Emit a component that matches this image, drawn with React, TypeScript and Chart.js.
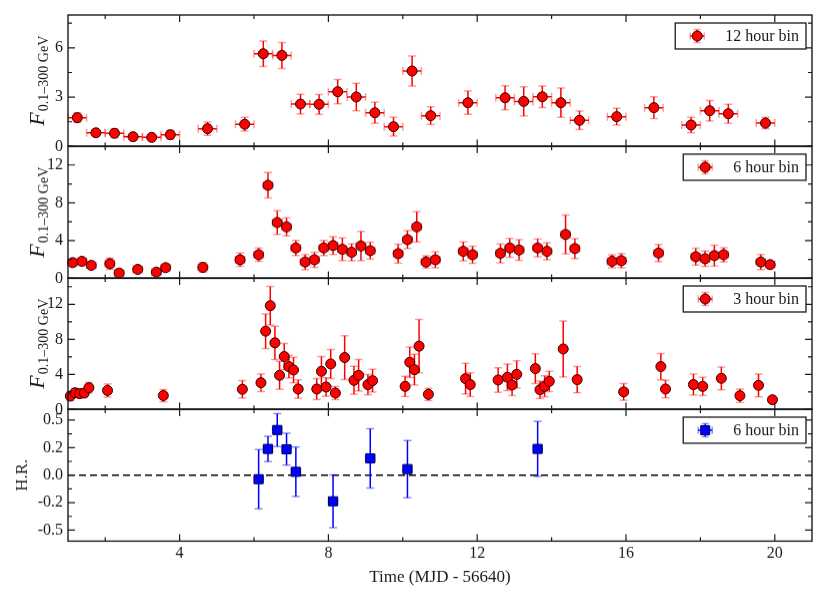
import React, { FC, useEffect, useRef } from 'react'
import { Chart, registerables } from 'chart.js'

Chart.register(...registerables)

// time axis (MJD - 56640)
const X_MIN = 1
const X_MAX = 21
const xMajorTicks = [4, 8, 12, 16, 20]
const xMinorTicks = [2, 6, 10, 14, 18]

// 12 hour bins
const time12h = [1.25, 1.75, 2.25, 2.75, 3.25, 3.75, 4.75, 5.75, 6.25, 6.75, 7.25, 7.75, 8.25, 8.75, 9.25, 9.75, 10.25, 10.75, 11.75, 12.75, 13.25, 13.75, 14.25, 14.75, 15.75, 16.75, 17.75, 18.25, 18.75, 19.75]
const flux12h = [1.75, 0.83, 0.8, 0.59, 0.55, 0.71, 1.08, 1.35, 5.64, 5.54, 2.58, 2.56, 3.33, 3.01, 2.05, 1.2, 4.59, 1.87, 2.66, 2.96, 2.74, 3.02, 2.66, 1.59, 1.81, 2.36, 1.3, 2.17, 1.99, 1.42]
const fluxErr12h = [0.3, 0.18, 0.28, 0.18, 0.15, 0.28, 0.4, 0.42, 0.78, 0.79, 0.6, 0.6, 0.74, 0.84, 0.64, 0.57, 0.91, 0.54, 0.71, 0.73, 0.89, 0.65, 0.89, 0.56, 0.51, 0.66, 0.47, 0.62, 0.58, 0.35]

// 6 hour bins
const time6h = [1.125, 1.375, 1.625, 2.125, 2.375, 2.875, 3.375, 3.625, 4.625, 5.625, 6.125, 6.375, 6.625, 6.875, 7.125, 7.375, 7.625, 7.875, 8.125, 8.375, 8.625, 8.875, 9.125, 9.875, 10.125, 10.375, 10.625, 10.875, 11.625, 11.875, 12.625, 12.875, 13.125, 13.625, 13.875, 14.375, 14.625, 15.625, 15.875, 16.875, 17.875, 18.125, 18.375, 18.625, 19.625, 19.875]
const flux6h = [1.66, 1.8, 1.37, 1.55, 0.56, 0.95, 0.66, 1.13, 1.16, 1.97, 2.5, 9.85, 5.91, 5.45, 3.22, 1.73, 1.97, 3.22, 3.47, 3.07, 2.76, 3.43, 2.93, 2.61, 4.1, 5.45, 1.73, 1.97, 2.86, 2.5, 2.65, 3.22, 3.0, 3.22, 2.86, 4.64, 3.15, 1.8, 1.87, 2.68, 2.29, 2.08, 2.4, 2.5, 1.73, 1.45]
const fluxErr6h = [0.35, 0.35, 0.3, 0.6, 0.25, 0.3, 0.25, 0.35, 0.5, 0.7, 0.7, 1.35, 1.25, 0.95, 0.8, 0.8, 0.8, 0.8, 0.95, 1.2, 0.9, 1.55, 0.9, 1.0, 0.95, 1.6, 0.65, 0.85, 1.0, 0.9, 1.0, 1.0, 1.1, 0.95, 0.9, 2.05, 1.05, 0.7, 0.75, 0.9, 0.9, 0.8, 1.1, 0.75, 0.8, 0.3]

// 3 hour bins
const time3h = [1.0625, 1.1875, 1.3125, 1.4375, 1.5625, 2.0625, 3.5625, 5.6875, 6.1875, 6.3125, 6.4375, 6.5625, 6.6875, 6.8125, 6.9375, 7.0625, 7.1875, 7.6875, 7.8125, 7.9375, 8.0625, 8.1875, 8.4375, 8.6875, 8.8125, 9.0625, 9.1875, 10.0625, 10.1875, 10.3125, 10.4375, 10.6875, 11.6875, 11.8125, 12.5625, 12.8125, 12.9375, 13.0625, 13.5625, 13.6875, 13.8125, 13.9375, 14.3125, 14.6875, 15.9375, 16.9375, 17.0625, 17.8125, 18.0625, 18.5625, 19.0625, 19.5625, 19.9375]
const flux3h = [1.52, 1.9, 1.8, 1.87, 2.48, 2.16, 1.58, 2.3, 3.05, 8.93, 11.84, 7.6, 3.89, 6.03, 4.89, 4.5, 2.33, 2.33, 4.35, 2.56, 5.19, 1.87, 5.92, 3.32, 3.89, 2.83, 3.28, 2.63, 5.38, 4.54, 7.22, 1.72, 3.51, 2.83, 3.36, 3.67, 2.79, 4.0, 4.66, 2.25, 2.63, 3.2, 6.9, 3.4, 2.0, 4.89, 2.33, 2.83, 2.63, 3.55, 1.57, 2.75, 1.1]
const fluxErr3h = [0.5, 0.5, 0.45, 0.5, 0.6, 0.75, 0.7, 1.0, 1.0, 1.97, 2.2, 1.9, 1.6, 1.5, 1.3, 1.45, 1.05, 1.2, 1.7, 1.05, 1.65, 0.75, 2.5, 1.6, 1.8, 1.15, 1.3, 1.15, 1.75, 1.75, 3.05, 0.7, 1.75, 1.35, 1.4, 1.5, 1.2, 1.55, 1.7, 1.0, 1.2, 1.15, 3.2, 1.5, 0.95, 1.5, 1.0, 1.2, 1.05, 1.3, 0.75, 1.3, 0.3]

// hardness ratio, 6 hour bins
const timeHR = [6.125, 6.375, 6.625, 6.875, 7.125, 8.125, 9.125, 10.125, 13.625]
const hardnessRatio = [-0.037, 0.238, 0.41, 0.235, 0.03, -0.238, 0.152, 0.055, 0.238]
const hardnessErr = [0.27, 0.115, 0.15, 0.145, 0.225, 0.24, 0.27, 0.26, 0.25]

// y ticks per panel
const yMajor12h = [0, 3, 6]
const yMinor12h = [1.5, 4.5, 7.5]
const yLabels12h = ['0', '3', '6']
const yMajor6h = [0, 4, 8, 12]
const yMinor6h = [2, 6, 10, 14]
const yLabels6h = ['0', '4', '8', '12']
const yMajor3h = [0, 4, 8, 12]
const yMinor3h = [2, 6, 10, 14]
const yLabels3h = ['0', '4', '8', '12']
const yMajorHR = [0.5, 0.25, 0, -0.25, -0.5]
const yMinorHR = [0.375, 0.125, -0.125, -0.375]
const yLabelsHR = ['0.5', '0.2', '0.0', '-0.2', '-0.5']

const PANEL_TOP = 15
const PANEL_H = 131.4
const PAD = 12
const BOTTOM_PAD = 57
const SERIF = '"Liberation Serif", "Times New Roman", serif'
const INK = '#1a1a1a'

type PanelProps = {
  index: number
  times: number[]
  values: number[]
  errors: number[]
  halfWidth: number
  yMin: number
  yMax: number
  majorTicks: number[]
  minorTicks: number[]
  tickLabels: string[]
  legend: string
  blue?: boolean
  last?: boolean
}

const Panel: FC<PanelProps> = (p) => {
  const canvasRef = useRef<HTMLCanvasElement>(null)
  const chartRef = useRef<Chart | null>(null)
  const bottomPad = p.last ? BOTTOM_PAD : PAD

  useEffect(() => {
    const ctx = canvasRef.current?.getContext('2d')
    if (!ctx) return

    const main = p.blue ? '#0000ff' : '#ff0000'
    const capColor = p.blue ? 'rgba(0,0,255,0.45)' : 'rgba(255,60,60,0.5)'
    const edge = p.blue ? '#000040' : '#300000'

    const drawErrorBar = (c: CanvasRenderingContext2D, px: number, py: number, x0: number, x1: number, y0: number, y1: number, cap: number) => {
      c.lineWidth = 1.5
      c.strokeStyle = capColor
      c.beginPath()
      c.moveTo(px - cap, y0); c.lineTo(px + cap, y0)
      c.moveTo(px - cap, y1); c.lineTo(px + cap, y1)
      c.moveTo(x0, py - cap); c.lineTo(x0, py + cap)
      c.moveTo(x1, py - cap); c.lineTo(x1, py + cap)
      c.stroke()
      c.strokeStyle = main
      c.beginPath()
      c.moveTo(px, y0); c.lineTo(px, y1)
      c.moveTo(x0, py); c.lineTo(x1, py)
      c.stroke()
    }

    const errorBars = {
      id: 'errorBars',
      beforeDatasetDraw(chart: any, args: any) {
        const ds = chart.data.datasets[args.index]
        if (!ds.yErr) return
        const xs = chart.scales.x
        const ys = chart.scales.y
        const c = chart.ctx as CanvasRenderingContext2D
        c.save()
        ds.data.forEach((pt: { x: number; y: number }, i: number) => {
          drawErrorBar(
            c,
            xs.getPixelForValue(pt.x),
            ys.getPixelForValue(pt.y),
            xs.getPixelForValue(pt.x - ds.xErr),
            xs.getPixelForValue(pt.x + ds.xErr),
            ys.getPixelForValue(pt.y - ds.yErr[i]),
            ys.getPixelForValue(pt.y + ds.yErr[i]),
            4,
          )
        })
        c.restore()
      },
    }

    const frame = {
      id: 'frame',
      afterDraw(chart: any) {
        const c = chart.ctx as CanvasRenderingContext2D
        const { left, right, top, bottom } = chart.chartArea
        const xs = chart.scales.x
        const ys = chart.scales.y
        c.save()
        c.strokeStyle = INK
        c.lineWidth = 1.4
        c.strokeRect(left, top, right - left, bottom - top)
        c.lineWidth = 1.2
        c.beginPath()
        const xTick = (v: number, len: number) => {
          const px = xs.getPixelForValue(v)
          c.moveTo(px, bottom); c.lineTo(px, bottom - len)
          c.moveTo(px, top); c.lineTo(px, top + len)
        }
        const yTick = (v: number, len: number) => {
          const py = ys.getPixelForValue(v)
          c.moveTo(left, py); c.lineTo(left + len, py)
          c.moveTo(right, py); c.lineTo(right - len, py)
        }
        xMajorTicks.forEach((v) => xTick(v, 7))
        xMinorTicks.forEach((v) => xTick(v, 4))
        p.majorTicks.forEach((v) => yTick(v, 7))
        p.minorTicks.forEach((v) => yTick(v, 4))
        c.stroke()

        c.fillStyle = INK
        c.font = `16px ${SERIF}`
        c.textAlign = 'right'
        c.textBaseline = 'middle'
        p.majorTicks.forEach((v, i) => {
          c.fillText(p.tickLabels[i], left - 5, ys.getPixelForValue(v))
        })
        if (p.last) {
          c.textAlign = 'center'
          xMajorTicks.forEach((v) => c.fillText(String(v), xs.getPixelForValue(v), bottom + 12))
          c.font = `17px ${SERIF}`
          c.fillText('Time (MJD - 56640)', (left + right) / 2, bottom + 36)
        }

        // y axis title
        const cy = (top + bottom) / 2
        if (p.blue) {
          c.translate(27, cy)
          c.rotate(-Math.PI / 2)
          c.textAlign = 'center'
          c.textBaseline = 'alphabetic'
          c.font = `17px ${SERIF}`
          c.fillText('H.R.', 0, 0)
        } else {
          c.translate(44, cy)
          c.rotate(-Math.PI / 2)
          c.textAlign = 'left'
          c.textBaseline = 'alphabetic'
          const sub = '0.1–300 GeV'
          c.font = `italic 22px ${SERIF}`
          const wF = c.measureText('F').width
          c.font = `14px ${SERIF}`
          const wS = c.measureText(sub).width
          const start = -(wF + wS + 1) / 2
          c.font = `italic 22px ${SERIF}`
          c.fillText('F', start, 0)
          c.font = `14px ${SERIF}`
          c.fillText(sub, start + wF + 1, 4)
        }
        c.restore()

        // legend
        c.save()
        c.font = `16px ${SERIF}`
        const tw = c.measureText(p.legend).width
        const bw = 50 + tw + 7
        const bh = 26
        const bx = right - 6 - bw
        const by = top + 8
        c.fillStyle = '#ffffff'
        c.fillRect(bx, by, bw, bh)
        c.strokeStyle = INK
        c.lineWidth = 1.3
        c.strokeRect(bx, by, bw, bh)
        const mx = bx + 22
        const my = by + bh / 2
        drawErrorBar(c, mx, my, mx - 7, mx + 7, my - 6.5, my + 6.5, 3.5)
        c.fillStyle = main
        c.strokeStyle = edge
        c.lineWidth = 1
        c.beginPath()
        if (p.blue) {
          c.rect(mx - 4.5, my - 4.5, 9, 9)
        } else {
          c.arc(mx, my, 5, 0, Math.PI * 2)
        }
        c.fill()
        c.stroke()
        c.fillStyle = INK
        c.textAlign = 'left'
        c.textBaseline = 'middle'
        c.fillText(p.legend, bx + 50, my + 1)
        c.restore()
      },
    }

    const points = p.times.map((t, i) => ({ x: t, y: p.values[i] }))
    const datasets: any[] = []
    if (p.blue) {
      datasets.push({
        data: [{ x: X_MIN, y: 0 }, { x: X_MAX, y: 0 }],
        showLine: true,
        borderColor: '#000000',
        borderWidth: 1.5,
        borderDash: [7, 4],
        pointRadius: 0,
        order: 2,
      })
    }
    datasets.push({
      data: points,
      yErr: p.errors,
      xErr: p.halfWidth,
      pointStyle: p.blue ? 'rect' : 'circle',
      pointRadius: p.blue ? 6.4 : 5,
      backgroundColor: main,
      borderColor: edge,
      borderWidth: 1,
      clip: false,
      order: 1,
    })

    if (chartRef.current) chartRef.current.destroy()
    chartRef.current = new Chart(ctx, {
      type: 'scatter',
      data: { datasets },
      options: {
        animation: false,
        responsive: true,
        maintainAspectRatio: false,
        events: [],
        layout: { padding: { left: 68, right: 18, top: PAD, bottom: bottomPad } },
        plugins: { legend: { display: false }, tooltip: { enabled: false } },
        scales: {
          x: { type: 'linear', min: X_MIN, max: X_MAX, display: false },
          y: { type: 'linear', min: p.yMin, max: p.yMax, display: false },
        },
      },
      plugins: [errorBars, frame],
    } as any)

    return () => {
      if (chartRef.current) {
        chartRef.current.destroy()
        chartRef.current = null
      }
    }
  }, [])

  return (
    <div
      style={{
        position: 'absolute',
        left: 0,
        top: PANEL_TOP + p.index * PANEL_H - PAD,
        width: 830,
        height: PANEL_H + PAD + bottomPad,
      }}
    >
      <canvas ref={canvasRef}></canvas>
    </div>
  )
}

const App: FC = () => {
  return (
    <div style={{ position: 'absolute', left: 0, top: 0, width: 830, height: 597, background: '#fff' }}>
      <Panel index={0} times={time12h} values={flux12h} errors={fluxErr12h} halfWidth={0.25} yMin={0} yMax={8}
        majorTicks={yMajor12h} minorTicks={yMinor12h} tickLabels={yLabels12h} legend="12 hour bin" />
      <Panel index={1} times={time6h} values={flux6h} errors={fluxErr6h} halfWidth={0.125} yMin={0} yMax={14}
        majorTicks={yMajor6h} minorTicks={yMinor6h} tickLabels={yLabels6h} legend="6 hour bin" />
      <Panel index={2} times={time3h} values={flux3h} errors={fluxErr3h} halfWidth={0.0625} yMin={0} yMax={15}
        majorTicks={yMajor3h} minorTicks={yMinor3h} tickLabels={yLabels3h} legend="3 hour bin" />
      <Panel index={3} times={timeHR} values={hardnessRatio} errors={hardnessErr} halfWidth={0.125} yMin={-0.6} yMax={0.6}
        majorTicks={yMajorHR} minorTicks={yMinorHR} tickLabels={yLabelsHR} legend="6 hour bin" blue last />
    </div>
  )
}

export default App
